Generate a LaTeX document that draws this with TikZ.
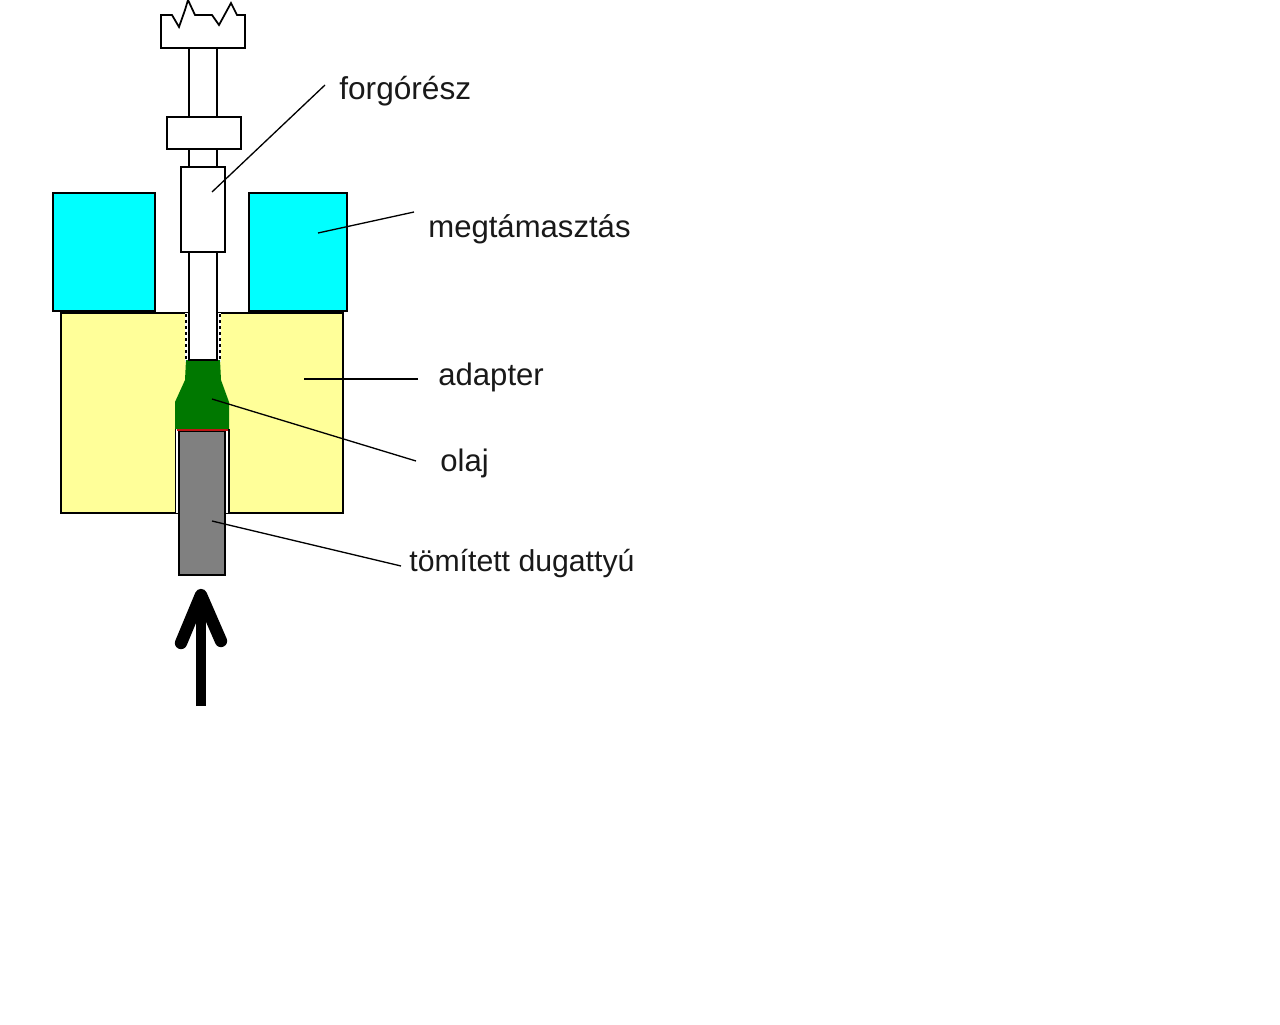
\documentclass[tikz,border=0pt]{standalone}
\usepackage{fontspec}
\setmainfont{Liberation Sans}
\definecolor{cyanbox}{RGB}{0,255,255}
\definecolor{yellowbox}{RGB}{255,255,153}
\definecolor{oilgreen}{RGB}{0,120,0}
\definecolor{sealred}{RGB}{190,20,20}
\definecolor{pistongrey}{RGB}{128,128,128}
\tikzset{
  part/.style={draw=black,line width=1pt,line join=miter},
  leader/.style={draw=black,line width=0.75pt},
  lbl/.style={anchor=base west,inner sep=0pt,font=\fontsize{17.7pt}{20pt}\selectfont,text=black!90},
  force/.style={draw=black,line width=5.7pt},
  forcehead/.style={draw=black,line width=7pt,line cap=round,line join=round}
}
\begin{document}
\begin{tikzpicture}[x=0.02cm,y=-0.02cm]
\useasboundingbox[fill=white] (0,0) rectangle (1280,1024);
% support blocks
\draw[part,fill=cyanbox] (53,193) rectangle (155,311);
\draw[part,fill=cyanbox] (249,193) rectangle (347,311);
% adapter
\draw[part,fill=yellowbox] (61,313) rectangle (343,513);
% bore
\fill[white] (185,313) rectangle (221,362);
\fill[white] (175,428) rectangle (229,513);
\draw[line width=1.3pt,dash pattern=on 1.8pt off 1.6pt] (186,314) -- (186,360);
\draw[line width=1.3pt,dash pattern=on 1.8pt off 1.6pt] (220,314) -- (220,360);
% oil
\fill[oilgreen] (186,360) -- (220,360) -- (221,380) -- (229,402) -- (229,429) -- (175,429) -- (175,402) -- (185,380) -- cycle;
\draw[line width=1pt] (175.5,429) -- (175.5,513);
\draw[line width=1pt] (229,429) -- (229,513);
% piston
\draw[part,fill=pistongrey] (179,431) rectangle (225,575);
\draw[draw=sealred,line width=1.5pt] (177,430) -- (228,430);
% shaft
\draw[part,fill=white] (189,252) rectangle (217,360);
\draw[part,fill=white] (189,149) rectangle (217,167);
\draw[part,fill=white] (189,48) rectangle (217,117);
\draw[part,fill=white] (167,117) rectangle (241,149);
\draw[part,fill=white] (181,167) rectangle (225,252);
% crown
\draw[part,fill=white] (161,48) -- (161,15) -- (172,15) -- (179,27) -- (185,10) -- (188,0) -- (195,15) -- (212,15) -- (219,25) -- (231,3) -- (237,15) -- (245,15) -- (245,48) -- cycle;
% force arrow
\coordinate (fbot) at (201,706);
\coordinate (ftip) at (201,595);
\coordinate (fl) at (181,643);
\coordinate (fr) at (221,641);
\draw[force] (fbot) -- (ftip);
\draw[forcehead] (fl) -- (ftip) -- (fr);
% labels
\node[lbl] (forgo) at (339,99) {\fontsize{18pt}{20pt}\selectfont forgórész};
\node[lbl] (megt) at (428,237) {megtámasztás};
\node[lbl] (adap) at (438,385) {adapter};
\node[lbl] (olaj) at (440,471) {olaj};
\node[lbl] (dug) at (409,571) {\fontsize{17.2pt}{20pt}\selectfont tömített dugattyú};
% leaders
\coordinate (a1) at (325,85);  \coordinate (b1) at (212,192);
\coordinate (a2) at (414,212); \coordinate (b2) at (318,233);
\coordinate (a3) at (418,379); \coordinate (b3) at (304,379);
\coordinate (a4) at (416,461); \coordinate (b4) at (212,399);
\coordinate (a5) at (401,566); \coordinate (b5) at (212,521);
\draw[leader] (a1) -- (b1);
\draw[leader] (a2) -- (b2);
\draw[leader] (a3) -- (b3);
\draw[leader] (a4) -- (b4);
\draw[leader] (a5) -- (b5);
\end{tikzpicture}
\end{document}
